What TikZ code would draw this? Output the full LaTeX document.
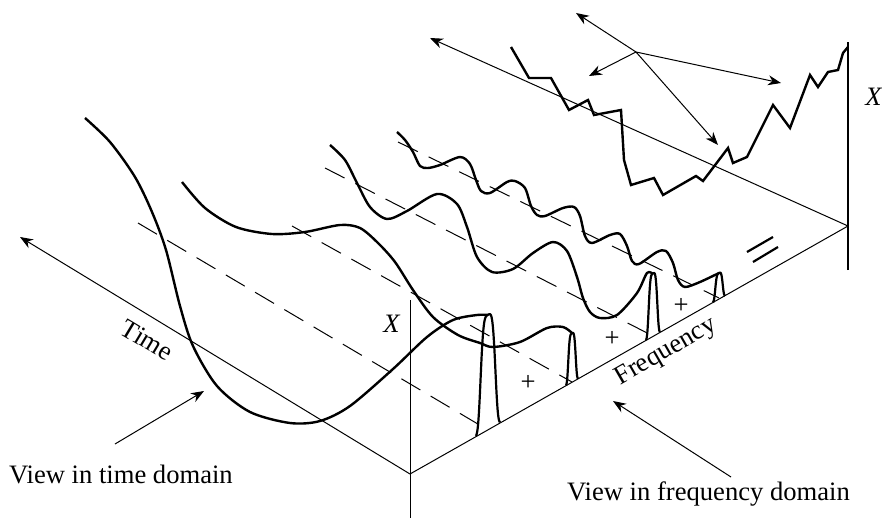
\documentclass[tikz,border=0pt]{standalone}
\usepackage{fontspec}
\setmainfont{Liberation Serif}
\usetikzlibrary{arrows.meta}

\tikzset{
  axis/.style={line width=0.5pt},
  wave/.style={line width=1.2pt, line join=round},
  zero/.style={line width=0.5pt, dash pattern=on 11pt off 6pt},
  spk/.style={line width=1.1pt, line join=round},
  lbl/.style={font=\fontsize{13.3}{15}\selectfont},
}

% spike on the frequency axis: centre x, height, half width (all in px)
\newcommand{\spike}[3]{%
  \draw[spk, domain=-1:1, samples=41, smooth, variable=\s]
    plot ({#1+#3*\s},{474-0.566*(#1-410)-0.566*#3*\s-#2*exp(-5*\s*\s*\s*\s)});
}

\begin{document}
\begin{tikzpicture}[x=0.5pt, y=-0.5pt, >={Stealth[length=6.5pt,width=5pt]}]
  \useasboundingbox (0,0) rectangle (882,518);

  % front axes
  \coordinate (O) at (410,474);
  \coordinate (T) at (20,237);
  \coordinate (F) at (848,226);
  \coordinate (Xtop) at (410,300);
  \coordinate (Xbot) at (410,518);
  \draw[axis,->] (O) -- (T);
  \draw[axis] (O) -- (F);
  \draw[axis] (Xbot) -- (Xtop);

  % back plane
  \coordinate (T2) at (430,38);
  \coordinate (X2top) at (848,42);
  \coordinate (X2bot) at (848,270);
  \draw[axis,->] (F) -- (T2);
  \draw[line width=1pt] (X2bot) -- (X2top);

  % zero lines of the components
  \draw[zero] (138,223) -- (488,430);
  \draw[zero] (292,226) -- (572,382);
  \draw[zero] (325,168) -- (653,336);
  \draw[zero] (398,142) -- (719,298);

  % components
  \draw[wave] plot[smooth] coordinates {(85,118) (110,142) (135,177) (152,212) (166,250)
    (180,306) (193,346) (217,386) (250,412) (290,423) (320,421) (350,406) (393,369)
    (427,337) (453,320) (477,315) (488,315)};
  \draw[wave] plot[smooth] coordinates {(182,182) (205,208) (236,227) (272,234) (305,232)
    (340,225) (360,228) (378,243) (395,262) (413,290) (433,317) (458,335) (480,343)
    (493,347) (520,342) (547,328) (563,327) (572,333)};
  \draw[wave] plot[smooth] coordinates {(330,145) (345,160) (357,183) (370,207) (387,219)
    (407,211) (437,194) (457,204) (467,227) (477,257) (492,272) (513,269) (533,253)
    (553,242) (567,251) (577,277) (583,298) (590,312) (600,318) (617,315) (637,293)
    (647,273) (653,274)};
  \draw[wave] plot[smooth] coordinates {(397,132) (405,140) (413,152) (420,166) (428,168)
    (440,165) (460,157) (470,164) (476,180) (481,191) (490,193) (507,182) (515,181)
    (525,188) (531,206) (537,215) (545,216) (563,208) (574,207) (580,216) (585,236)
    (592,243) (610,235) (620,234) (627,246) (632,261) (639,264) (657,252) (666,251)
    (673,263) (678,280) (685,287) (700,282) (719,273)};

  % spectrum
  \spike{488}{115}{12}
  \spike{572}{49}{6}
  \spike{653}{63}{7}
  \spike{719}{26}{6}

  % sum on the back plane
  \draw[wave, line join=miter] (511,47) -- (529,78) -- (551,78) -- (569,110) -- (588,100)
    -- (594,115) -- (621,110) -- (624,160) -- (631,185) -- (654,178) -- (663,195)
    -- (696,176) -- (703,181) -- (728,148) -- (733,163) -- (747,157) -- (773,105)
    -- (790,128) -- (810,75) -- (818,87) -- (828,72) -- (838,70) -- (843,53) -- (848,47);

  % pointers to the component lines
  \coordinate (hub) at (636,52);
  \coordinate (h1) at (576,13);
  \coordinate (h2) at (589,76);
  \coordinate (h3) at (781,83);
  \coordinate (h4) at (718,145);
  \foreach \n in {h1,h2,h3,h4}
    \draw[axis,->] (hub) -- (\n);

  \draw[line width=1.1pt] (747,252) -- (773,237);
  \draw[line width=1.1pt] (753,262) -- (778,247);

  \node[lbl] (plusA) at (528,383) {+};
  \node[lbl] (plusB) at (612,339) {+};
  \node[lbl] (plusC) at (681,306) {+};

  \node[lbl] (xfront) at (392,324) {\textit{X}};
  \node[lbl] (xback) at (874,97) {\textit{X}};
  \node[lbl, rotate=-31] (time) at (147,340) {Time};
  \node[lbl, rotate=30] (freq) at (666,352) {Frequency};

  \node[lbl, anchor=base west] (tview) at (2,483) {View in time domain};
  \node[lbl, anchor=base west] (fview) at (560,500) {View in frequency domain};
  \coordinate (ta) at (115,444);
  \coordinate (tb) at (204,391);
  \coordinate (fa) at (731,477);
  \coordinate (fb) at (613,401);
  \draw[axis,->] (ta) -- (tb);
  \draw[axis,->] (fa) -- (fb);
\end{tikzpicture}
\end{document}
